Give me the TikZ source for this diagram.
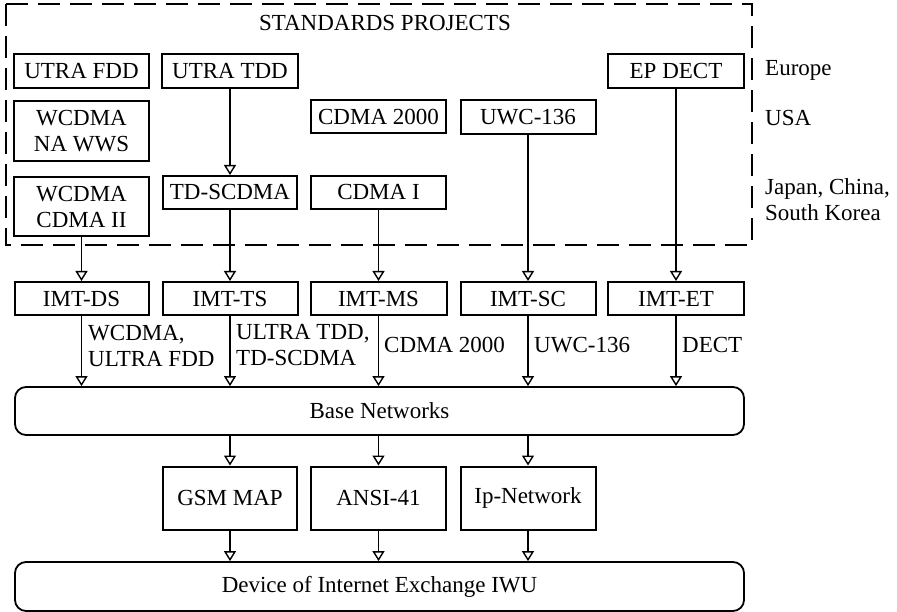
\documentclass[tikz,border=0pt]{standalone}
\usepackage{fontspec}
\setmainfont{Liberation Serif}
\usetikzlibrary{arrows.meta,calc}
\begin{document}
\begin{tikzpicture}[x=1pt,y=-1pt,
  every node/.style={font=\fontsize{23}{26}\selectfont, inner sep=0pt},
  box/.style={draw, line width=2pt, minimum height=34pt, align=center},
  widebox/.style={draw, line width=1.8pt, rounded corners=11pt, minimum width=729pt},
  link/.style={line width=1.7pt, -{Triangle[open, length=10pt, width=12pt, line width=1.4pt]}},
  note/.style={anchor=west, align=left},
  region/.style={anchor=west, align=left}]
\useasboundingbox (0,0) rectangle (897,612);

% standards projects frame
\draw[line width=1.8pt, dash pattern=on 22pt off 10pt] (6,4) rectangle (752,245);
\node (title) at (385,23) {STANDARDS PROJECTS};

% Europe row
\node[box, minimum width=135pt] (utrafdd) at (81.5,71) {UTRA FDD};
\node[box, minimum width=136pt] (utratdd) at (230,71) {UTRA TDD};
\node[box, minimum width=136pt] (epdect) at (676,71) {EP DECT};

% USA row
\node[box, minimum width=135pt, minimum height=60pt] (wcdmana) at (81.5,131) {WCDMA\\NA WWS};
\node[box, minimum width=135pt, minimum height=33pt] (cdma2000) at (378.5,117) {CDMA 2000};
\node[box, minimum width=135pt] (uwc) at (528,117) {UWC-136};

% Japan / China / South Korea row
\node[box, minimum width=135pt, minimum height=59pt] (wcdmacdma) at (81.5,206.5) {WCDMA\\CDMA II};
\node[box, minimum width=134pt, minimum height=33pt] (tdscdma) at (230,192.5) {TD-SCDMA};
\node[box, minimum width=135pt, minimum height=33pt] (cdmai) at (378.5,192.5) {CDMA I};

% region labels
\node[region] (europe) at (765,70) {Europe};
\node[region] (usa) at (765,118) {USA};
\node[region] (asia) at (765,199.5) {Japan, China,\\South Korea};

% IMT-2000 families
\node[box, minimum width=134pt, minimum height=33pt] (imtds) at (81.5,298.5) {IMT-DS};
\node[box, minimum width=135pt, minimum height=33pt] (imtts) at (230,298.5) {IMT-TS};
\node[box, minimum width=136pt, minimum height=33pt] (imtms) at (378.5,298.5) {IMT-MS};
\node[box, minimum width=135pt, minimum height=33pt] (imtsc) at (528,298.5) {IMT-SC};
\node[box, minimum width=136pt, minimum height=33pt] (imtet) at (676,298.5) {IMT-ET};

% base networks and core networks
\node[widebox, minimum height=48pt] (base) at (379.5,411) {Base Networks};
\node[box, minimum width=134pt, minimum height=63pt] (gsm) at (230,498) {GSM MAP};
\node[box, minimum width=135pt, minimum height=63pt] (ansi) at (378.5,498) {ANSI-41};
\node[box, minimum width=135pt, minimum height=63pt] (ipnet) at (528,498) {Ip-Network};
\node[widebox, minimum height=49pt] (iwu) at (379.5,586.5) {Device of Internet Exchange IWU};

% standards to IMT families
\draw[link] (utratdd.south) -- (tdscdma.north);
\draw[link] (wcdmacdma.south) -- (imtds.north);
\draw[link] (tdscdma.south) -- (imtts.north);
\draw[link] (cdmai.south) -- (imtms.north);
\draw[link] (uwc.south) -- (imtsc.north);
\draw[link] (epdect.south) -- (imtet.north);

% IMT families to base networks
\foreach \n in {imtds,imtts,imtms,imtsc,imtet}
  \draw[link] (\n.south) -- (\n.south |- base.north);

% base networks to core networks to IWU
\foreach \n in {gsm,ansi,ipnet} {
  \draw[link] (\n.north |- base.south) -- (\n.north);
  \draw[link] (\n.south) -- (\n.south |- iwu.north);
}

% connector labels
\node[note] (lds) at (88,345.5) {WCDMA,\\ULTRA FDD};
\node[note] (lts) at (236,345.5) {ULTRA TDD,\\TD-SCDMA};
\node[note] (lms) at (384,345) {CDMA 2000};
\node[note] (lsc) at (534,345) {UWC-136};
\node[note] (let) at (682,345) {DECT};
\end{tikzpicture}
\end{document}
